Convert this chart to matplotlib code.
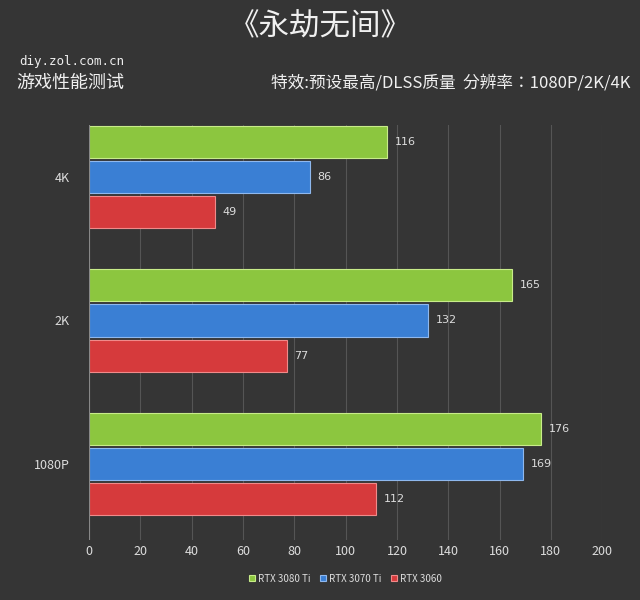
import matplotlib
matplotlib.use("Agg")
import matplotlib.pyplot as plt
from matplotlib import font_manager as fm
import numpy as np

categories = ["1080P", "2K", "4K"]
series = ["RTX 3080 Ti", "RTX 3070 Ti", "RTX 3060"]
v3080 = [176, 165, 116]
v3070 = [169, 132, 86]
v3060 = [112, 77, 49]
xticks = [0, 20, 40, 60, 80, 100, 120, 140, 160, 180, 200]

colors = ["#8cc63f", "#3a7fd4", "#d63a3c"]
edges = ["#c8ec8a", "#8fb8ee", "#f08a8a"]

cjk_path = None
for f in fm.findSystemFonts():
    if "NotoSansCJK" in f.replace(" ", "") or "NotoSansSC" in f:
        cjk_path = f
        if "Regular" in f:
            break
if cjk_path:
    fm.fontManager.addfont(cjk_path)
    cjk_name = fm.FontProperties(fname=cjk_path).get_name()
else:
    cjk_name = "Noto Sans CJK SC"
plt.rcParams["font.family"] = [cjk_name, "DejaVu Sans"]

fig = plt.figure(figsize=(6.4, 6.0), dpi=100, facecolor="#353535")
ax = fig.add_axes([0.139, 0.10, 0.802, 0.692])
ax.set_facecolor("#353535")

y = np.arange(len(categories))
offs = [0.245, 0, -0.245]
h = 0.225
for vals, off, c, e, name in zip([v3080, v3070, v3060], offs, colors, edges, series):
    bars = ax.barh(y + off, vals, height=h, color=c, edgecolor=e, linewidth=0.8, label=name, zorder=3)
    for b, v in zip(bars, vals):
        ax.text(v + 3, b.get_y() + h / 2, str(v), va="center", ha="left", color="#dddddd", fontsize=8,
                family="DejaVu Sans")

ax.set_xlim(0, 200)
ax.set_ylim(-0.53, 2.364)
ax.set_xticks(xticks)
ax.set_yticks(y)
ax.set_yticklabels(categories)
ax.tick_params(colors="#dddddd", labelsize=9, length=0)
ax.tick_params(axis="y", pad=14)
ax.grid(axis="x", color="#555555", linewidth=0.8, zorder=0)
for s in ax.spines.values():
    s.set_visible(False)
ax.axvline(0, color="#888888", linewidth=0.8, zorder=4)

leg = ax.legend(loc="upper center", bbox_to_anchor=(0.5, -0.06), ncol=3, frameon=False,
                fontsize=7, handlelength=0.6, handleheight=0.6, columnspacing=1.0, handletextpad=0.3)
for t in leg.get_texts():
    t.set_color("#dddddd")

fig.text(0.5, 0.955, "《永劫无间》", ha="center", va="center", color="#f0f0f0", fontsize=22)
fig.text(0.03, 0.897, "diy.zol.com.cn", ha="left", va="center", color="#eeeeee", fontsize=9, family="DejaVu Sans Mono")
fig.text(0.025, 0.862, "游戏性能测试", ha="left", va="center", color="#f0f0f0", fontsize=13)
fig.text(0.985, 0.862, "特效:预设最高/DLSS质量  分辨率：1080P/2K/4K", ha="right", va="center", color="#f0f0f0", fontsize=12)

fig.savefig("out.png", dpi=100, facecolor=fig.get_facecolor())
